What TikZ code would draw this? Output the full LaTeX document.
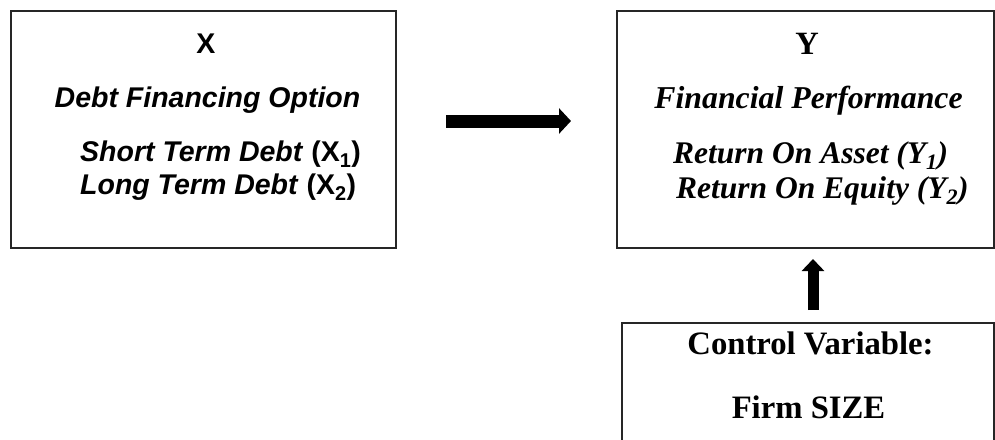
\documentclass[tikz,border=0pt]{standalone}
\usepackage{fontspec}
\setmainfont{Liberation Serif}
\newfontfamily\arialf{Liberation Sans}
\usetikzlibrary{arrows.meta}
\begin{document}
\begin{tikzpicture}[x=1pt,y=1pt,
  boxstyle/.style={draw=black!85, line width=1.2pt},
  lefttext/.style={anchor=base, font=\arialf\bfseries\itshape\fontsize{28.5}{33}\selectfont, inner sep=0pt},
  righttext/.style={anchor=base, font=\bfseries\itshape\fontsize{31.5}{35}\selectfont, inner sep=0pt},
  bottomtext/.style={anchor=base, font=\bfseries\fontsize{32.7}{37}\selectfont, inner sep=0pt},
  fatarrow/.style={line width=13pt, -{Triangle[length=12pt,width=25pt]}},
  fatarrowv/.style={line width=11pt, -{Triangle[length=12pt,width=22pt]}}
]
\useasboundingbox (0,0) rectangle (995,-439);
\clip (0,0) rectangle (995,-439);
% boxes
\draw[boxstyle] (11,-11) rectangle (396,-248);
\draw[boxstyle] (617,-11) rectangle (994,-248);
\draw[boxstyle] (622,-323) rectangle (994,-460);
% left text
\node[lefttext, font=\arialf\bfseries\fontsize{28.5}{33}\selectfont] (x) at (206,-53) {X};
\node[lefttext] (xt) at (207.5,-107) {Debt Financing Option};
\node[lefttext, anchor=north west, align=left] (xl) at (80,-141)
  {Short Term Debt \textup{(X\textsubscript{1})}\\Long Term Debt \textup{(X\textsubscript{2})}};
% right text
\node[righttext, font=\bfseries\fontsize{32.5}{37}\selectfont] (y) at (807,-54) {Y};
\node[righttext, font=\bfseries\itshape\fontsize{31.8}{35}\selectfont] (yt) at (808.5,-108) {Financial Performance};
\node[righttext, anchor=north west, align=left] (yl) at (673,-141)
  {Return On Asset (Y\textsubscript{1})\\\hspace*{3pt}Return On Equity (Y\textsubscript{2})};
% bottom text
\node[bottomtext] (c1) at (810.5,-354) {Control Variable:};
\node[bottomtext] (c2) at (808.5,-418) {Firm SIZE};
% arrows
\coordinate (a1) at (446,-121);
\coordinate (a2) at (571,-121);
\draw[fatarrow] (a1) -- (a2);
\coordinate (b1) at (813,-310);
\coordinate (b2) at (813,-259);
\draw[fatarrowv] (b1) -- (b2);
\end{tikzpicture}
\end{document}
